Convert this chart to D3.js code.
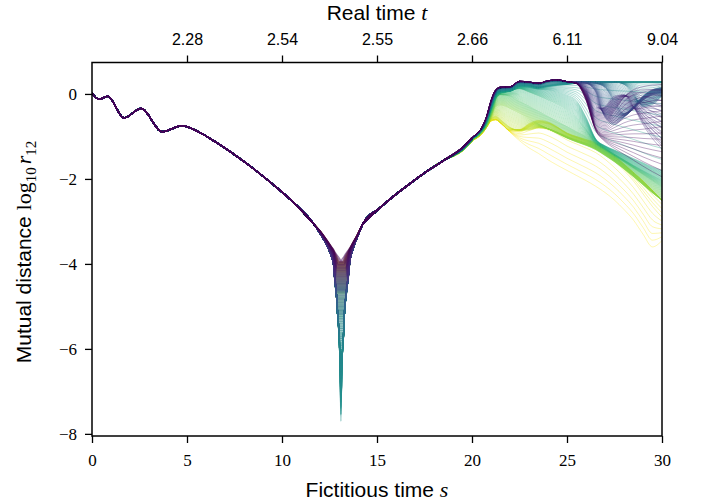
<!DOCTYPE html>
<html><head><meta charset="utf-8">
<script src="https://cdn.jsdelivr.net/npm/d3@7"></script>
<style>body{margin:0;background:#fff;} svg{display:block}</style>
</head><body><svg id="c" width="707" height="504"></svg>
<script>
// ---------- data ----------
const xTicks = [0, 5, 10, 15, 20, 25, 30];
const yTicks = [0, -2, -4, -6, -8];
const topTickPos = [5, 10, 15, 20, 25, 30];
const topTickLabels = ["2.28", "2.54", "2.55", "2.66", "6.11", "9.04"];

// shared trajectory before the close encounter
const preS = [0, 0.37, 0.83, 1.68, 2.58, 3.7, 4.72, 5.68, 6.5, 7.44, 8.5, 9.5, 10.6, 11.71];
const preV = [0.02, -0.125, -0.055, -0.565, -0.345, -0.89, -0.75, -0.91, -1.13, -1.41, -1.76, -2.12, -2.55, -3.08];

// close encounter at s = dipS: inner V (shallowest member) and outer wall (deep members)
const dipS = 13.1;
const dipOffL = [1.39, 1.1, 0.75, 0.5, 0.39, 0.31, 0.22, 0.17, 0.1, 0.06, 0.03];
const dipVL   = [-3.08, -3.22, -3.43, -3.59, -3.66, -3.72, -3.78, -3.81, -3.85, -3.88, -3.90];
const dipWL   = [-3.08, -3.28, -3.55, -3.82, -4.00, -4.40, -4.81, -5.20, -5.60, -6.10, -6.80];
const dipOffR = [0.03, 0.06, 0.09, 0.14, 0.18, 0.25, 0.36, 0.47, 0.65, 0.82, 1.18];
const dipVR   = [-3.91, -3.89, -3.87, -3.84, -3.81, -3.76, -3.69, -3.62, -3.48, -3.35, -3.04];
const dipWR   = [-6.90, -6.25, -6.00, -5.65, -5.20, -4.81, -4.40, -3.95, -3.62, -3.42, -3.04];
const dipCentreV = -3.92, dipCentreW = -8.0;
// deepest value reached by each key member (colour parameter t)
const dipT   = [0, 0.1, 0.25, 0.35, 0.45, 0.5, 0.55, 0.65, 0.75, 0.9, 1.0];
const dipMin = [-3.92, -4.2, -4.65, -5.2, -6.0, -7.7, -6.2, -5.3, -4.7, -4.2, -3.95];

// shared trajectory after the encounter
const postS = [14.28, 15.0, 15.86, 16.7, 17.6, 18.6];
const postV = [-3.04, -2.74, -2.41, -2.12, -1.83, -1.54];

// late divergence, key members on a common s grid
const lateS = [19.5, 20, 20.5, 20.75, 21, 21.25, 21.5, 22, 22.5, 23, 23.5, 24, 24.5, 25, 25.5, 26, 26.5, 27, 27.5, 28, 28.5, 29, 29.5, 30];
const keyT = [0, 0.04, 0.08, 0.14, 0.22, 0.32, 0.42, 0.48, 0.54, 0.58, 0.65, 0.72, 0.82, 0.90, 0.95, 0.97, 1.0];
const late000 = [-1.26, -1.03, -0.80, -0.55, -0.15, 0.10, 0.16, 0.17, 0.30, 0.28, 0.25, 0.31, 0.33, 0.29, 0.24, -0.15, -0.85, -1.12, -1.28, -1.42, -1.56, -1.70, -1.83, -1.95];
const late004 = [-1.26, -1.03, -0.80, -0.55, -0.16, 0.10, 0.16, 0.17, 0.30, 0.28, 0.25, 0.31, 0.33, 0.29, 0.25, -0.08, -0.78, -0.95, -0.92, -0.88, -0.85, -0.83, -0.80, -0.77];
const late008 = [-1.26, -1.03, -0.80, -0.56, -0.17, 0.09, 0.16, 0.17, 0.30, 0.28, 0.25, 0.31, 0.33, 0.29, 0.25, -0.02, -0.62, -0.68, -0.40, -0.08, 0.10, 0.17, 0.21, 0.22];
const late014 = [-1.27, -1.04, -0.81, -0.57, -0.18, 0.08, 0.15, 0.16, 0.29, 0.28, 0.25, 0.31, 0.33, 0.29, 0.26, 0.08, -0.40, -0.30, -0.05, -0.02, -0.30, -0.72, -1.05, -1.30];
const late022 = [-1.27, -1.04, -0.82, -0.58, -0.20, 0.07, 0.15, 0.16, 0.29, 0.28, 0.25, 0.31, 0.33, 0.29, 0.28, 0.25, 0.05, -0.55, -0.72, -0.55, -0.35, -0.15, -0.02, 0.02];
const late032 = [-1.28, -1.05, -0.83, -0.60, -0.23, 0.05, 0.14, 0.15, 0.28, 0.27, 0.24, 0.30, 0.32, 0.29, 0.28, 0.28, 0.25, 0.15, -0.20, -0.45, -0.30, -0.05, 0.10, 0.15];
const late042 = [-1.28, -1.05, -0.84, -0.62, -0.26, 0.03, 0.12, 0.13, 0.26, 0.25, 0.22, 0.28, 0.30, 0.28, 0.28, 0.28, 0.28, 0.28, 0.28, 0.22, 0.00, -0.30, -0.25, -0.05];
const late048 = [-1.29, -1.06, -0.85, -0.64, -0.30, 0.00, 0.08, 0.10, 0.22, 0.21, 0.17, 0.21, 0.24, 0.25, 0.27, 0.28, 0.28, 0.28, 0.28, 0.28, 0.28, 0.28, 0.28, 0.28];
const late054 = [-1.30, -1.07, -0.86, -0.66, -0.32, -0.02, 0.06, 0.08, 0.19, 0.18, 0.14, 0.17, 0.20, 0.22, 0.25, 0.27, 0.28, 0.28, 0.28, 0.28, 0.28, 0.28, 0.28, 0.28];
const late058 = [-1.30, -1.07, -0.86, -0.67, -0.34, -0.04, 0.04, 0.06, 0.17, 0.15, 0.11, 0.09, 0.04, -0.03, -0.16, -0.55, -1.05, -1.22, -1.32, -1.42, -1.52, -1.62, -1.72, -1.80];
const late065 = [-1.30, -1.07, -0.87, -0.68, -0.37, -0.08, 0.02, 0.08, 0.12, 0.04, -0.05, -0.15, -0.25, -0.38, -0.55, -0.82, -1.12, -1.28, -1.42, -1.55, -1.68, -1.80, -1.92, -2.02];
const late072 = [-1.31, -1.08, -0.89, -0.72, -0.42, -0.12, -0.02, -0.06, -0.16, -0.28, -0.40, -0.52, -0.64, -0.76, -0.88, -1.00, -1.18, -1.32, -1.46, -1.60, -1.75, -1.90, -2.05, -2.20];
const late082 = [-1.32, -1.09, -0.91, -0.76, -0.50, -0.30, -0.27, -0.35, -0.46, -0.58, -0.70, -0.82, -0.93, -1.04, -1.13, -1.21, -1.31, -1.45, -1.60, -1.77, -1.95, -2.14, -2.33, -2.50];
const late090 = [-1.33, -1.10, -0.93, -0.78, -0.58, -0.52, -0.60, -0.78, -0.86, -0.85, -0.80, -0.82, -0.90, -1.00, -1.08, -1.15, -1.22, -1.35, -1.50, -1.68, -1.87, -2.07, -2.28, -2.50];
const late095 = [-1.33, -1.10, -0.94, -0.79, -0.62, -0.60, -0.68, -0.85, -0.84, -0.70, -0.62, -0.66, -0.78, -0.92, -1.00, -1.07, -1.14, -1.28, -1.45, -1.65, -1.85, -2.05, -2.28, -2.50];
const late097 = [-1.33, -1.11, -0.95, -0.80, -0.63, -0.60, -0.68, -0.87, -0.90, -0.78, -0.68, -0.70, -0.80, -0.94, -1.03, -1.12, -1.22, -1.38, -1.58, -1.80, -2.05, -2.35, -2.65, -2.90];
const late100 = [-1.33, -1.11, -0.95, -0.80, -0.64, -0.61, -0.68, -0.90, -1.10, -1.27, -1.40, -1.55, -1.68, -1.80, -1.92, -2.04, -2.17, -2.32, -2.50, -2.72, -2.97, -3.30, -3.60, -3.45];
const nMembers = 201;

// ---------- layout ----------
const svg = d3.select("#c");
const L = 92, R = 662, T = 62.5, B = 436;
const x = d3.scaleLinear().domain([0, 30]).range([L, R]);
const y = d3.scaleLinear().domain([-8.05, 0.74]).range([B, T]);

const keyLate = [late000, late004, late008, late014, late022, late032, late042, late048, late054, late058, late065, late072, late082, late090, late095, late097, late100];
function blend(tArr, rows, t) {
  let k = 0;
  while (k < tArr.length - 2 && t > tArr[k + 1]) k++;
  const f = Math.max(0, Math.min(1, (t - tArr[k]) / (tArr[k + 1] - tArr[k])));
  return rows[0].map((_, j) => rows[k][j] * (1 - f) + rows[k + 1][j] * f);
}
const dipRows = dipMin.map(v => [v]);

const smooth = d3.line().x(d => x(d[0])).y(d => y(d[1])).curve(d3.curveMonotoneX);

svg.append("clipPath").attr("id", "clip").append("rect")
  .attr("x", L).attr("y", T).attr("width", R - L).attr("height", B - T);
const plot = svg.append("g").attr("clip-path", "url(#clip)");

const prePts = preS.map((s, i) => [s, preV[i]]);
const postShared = postS.map((s, i) => [s, postV[i]]);

for (let i = nMembers - 1; i >= 0; i--) {
  const t = i / (nMembers - 1);
  const col = d3.interpolateViridis(t);
  const g = plot.append("g").attr("fill", "none").attr("stroke", col).attr("stroke-opacity", 0.42);
  // shared early part
  g.append("path").attr("d", smooth(prePts)).attr("stroke-width", 1.5).attr("stroke-opacity", 0.3);
  // encounter
  const m = blend(dipT, dipRows, t)[0];
  const f = Math.max(0, Math.min(1, (dipCentreV - m) / 0.5));
  const dipPts = [[preS[preS.length - 2], preV[preV.length - 2]]];
  dipOffL.forEach((o, j) => dipPts.push([dipS - o, Math.max(dipVL[j] * (1 - f) + dipWL[j] * f, m)]));
  dipPts.push([dipS, Math.max(dipCentreV * (1 - f) + dipCentreW * f, m)]);
  dipOffR.forEach((o, j) => dipPts.push([dipS + o, Math.max(dipVR[j] * (1 - f) + dipWR[j] * f, m)]));
  dipPts.push([postS[1], postV[1]]);
  g.append("path").attr("d", smooth(dipPts)).attr("stroke-width", 1.3).attr("stroke-opacity", 0.5);
  // shared part after the encounter + late divergence
  const lv = blend(keyT, keyLate, t);
  const latePts = lateS.map((s, j) => [s, lv[j]]);
  g.append("path").attr("d", smooth(postShared.concat(latePts.slice(0, 2)))).attr("stroke-width", 1.5).attr("stroke-opacity", 0.3);
  g.append("path").attr("d", smooth(postShared.slice(-1).concat(latePts))).attr("stroke-width", 0.85);
}

// frame
svg.append("rect").attr("x", L).attr("y", T).attr("width", R - L).attr("height", B - T)
  .attr("fill", "none").attr("stroke", "#000").attr("stroke-width", 1.5);

const serif = "'Liberation Serif', 'DejaVu Serif', serif";
const sans = "'Liberation Sans', 'DejaVu Sans', sans-serif";

const ax = svg.append("g").attr("transform", `translate(0,${B})`)
  .call(d3.axisBottom(x).tickValues(xTicks).tickSize(7).tickPadding(11).tickFormat(d3.format("d")));
const ay = svg.append("g").attr("transform", `translate(${L},0)`)
  .call(d3.axisLeft(y).tickValues(yTicks).tickSize(7).tickPadding(8).tickFormat(d => d < 0 ? "\u2212" + Math.abs(d) : String(d)));
const at = svg.append("g").attr("transform", `translate(0,${T})`)
  .call(d3.axisTop(x).tickValues(topTickPos).tickSize(7).tickPadding(11).tickFormat((d, i) => topTickLabels[i]));
[ax, ay, at].forEach(a => {
  a.select(".domain").remove();
  a.selectAll(".tick line").attr("stroke", "#000").attr("stroke-width", 1.3);
  a.selectAll("text").attr("fill", "#000");
});
ax.selectAll("text").attr("font-family", serif).attr("font-size", 17);
ay.selectAll("text").attr("font-family", serif).attr("font-size", 17).attr("dy", "0.33em");
at.selectAll("text").attr("font-family", sans).attr("font-size", 16);

// axis labels
const xl = svg.append("text").attr("x", 377).attr("y", 497).attr("text-anchor", "middle")
  .attr("font-family", sans).attr("font-size", 21).attr("fill", "#000");
xl.append("tspan").text("Fictitious time ");
xl.append("tspan").attr("font-family", serif).attr("font-style", "italic").attr("font-size", 22).text("s");

const tl = svg.append("text").attr("x", 377).attr("y", 20).attr("text-anchor", "middle")
  .attr("font-family", sans).attr("font-size", 21).attr("fill", "#000");
tl.append("tspan").text("Real time ");
tl.append("tspan").attr("font-family", serif).attr("font-style", "italic").attr("font-size", 22).text("t");

const yl = svg.append("text").attr("transform", "translate(31,252) rotate(-90)").attr("text-anchor", "middle")
  .attr("font-family", sans).attr("font-size", 21).attr("fill", "#000");
yl.append("tspan").text("Mutual distance ");
yl.append("tspan").attr("font-family", serif).attr("font-size", 22).text("log");
yl.append("tspan").attr("font-family", serif).attr("font-size", 15).attr("dy", 5).text("10");
yl.append("tspan").attr("font-family", serif).attr("font-style", "italic").attr("font-size", 22).attr("dy", -5).attr("dx", 3).text("r");
yl.append("tspan").attr("font-family", serif).attr("font-size", 15).attr("dy", 5).text("12");
</script></body></html>
